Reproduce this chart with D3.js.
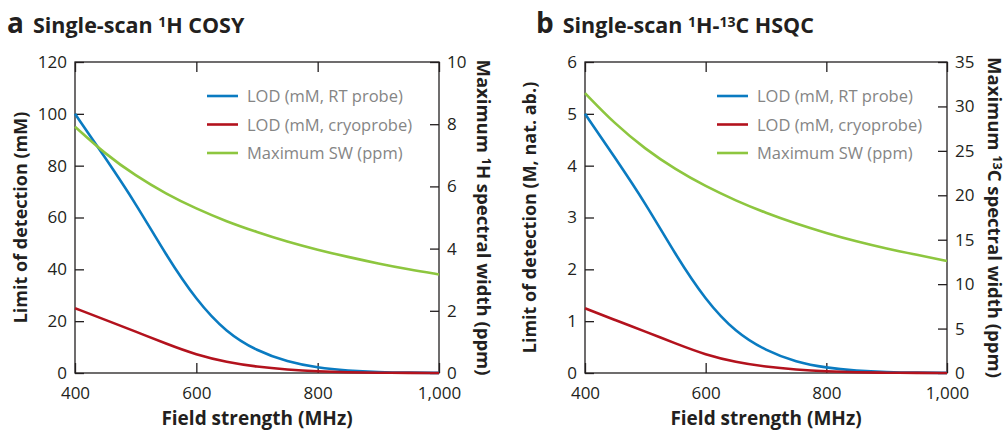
<!DOCTYPE html>
<html>
<head>
<meta charset="utf-8">
<script src="https://cdn.jsdelivr.net/npm/d3@7"></script>
<style>
  body { margin: 0; background: #fff; }
  svg { font-family: "Open Sans", "Noto Sans", sans-serif; }
</style>
</head>
<body>
<div id="chart"></div>
<script>
// field strengths (MHz)
var fieldMHz = [400, 450, 500, 550, 600, 650, 700, 750, 800, 850, 900, 950, 1000];

// panel a: single-scan 1H COSY
var cosyRT   = [100, 83, 65.5, 45.5, 28, 15.5, 8.5, 4.3, 2, 0.9, 0.35, 0.12, 0.04];
var cosyCryo = [25, 20.5, 16, 11.3, 7, 4.2, 2.4, 1.3, 0.6, 0.25, 0.1, 0.04, 0.02];
var cosySW   = [7.92, 7.04, 6.34, 5.76, 5.28, 4.87, 4.53, 4.22, 3.96, 3.73, 3.52, 3.33, 3.17];

// panel b: single-scan 1H-13C HSQC
var hsqcRT   = [5, 4.15, 3.28, 2.28, 1.4, 0.78, 0.43, 0.21, 0.1, 0.045, 0.018, 0.006, 0.002];
var hsqcCryo = [1.25, 1.02, 0.8, 0.57, 0.35, 0.21, 0.12, 0.065, 0.03, 0.012, 0.005, 0.002, 0.001];
var hsqcSW   = [31.5, 28.0, 25.2, 22.9, 21.0, 19.4, 18.0, 16.8, 15.75, 14.8, 14.0, 13.3, 12.6];

var xTicks = [400, 600, 800, 1000];
var legendLabels = ["LOD (mM, RT probe)", "LOD (mM, cryoprobe)", "Maximum SW (ppm)"];
var colors = ["#0a7bc1", "#b3121d", "#8dc63f"];
var ink = "#231f20";

var svg = d3.select("#chart").append("svg")
  .attr("width", 1007)
  .attr("height", 432);

var fmtX = d3.format(",");

function drawPanel(opt) {
  var x = d3.scaleLinear().domain([400, 1000]).range([opt.left, opt.right]);
  var yL = d3.scaleLinear().domain([0, opt.leftMax]).range([opt.bottom, opt.top]);
  var yR = d3.scaleLinear().domain([0, opt.rightMax]).range([opt.bottom, opt.top]);
  var g = svg.append("g");

  // frame
  g.append("rect")
    .attr("x", opt.left).attr("y", opt.top)
    .attr("width", opt.right - opt.left).attr("height", opt.bottom - opt.top)
    .attr("fill", "none").attr("stroke", ink).attr("stroke-width", 1.3);

  // left axis (ticks point inward)
  var la = g.append("g").attr("transform", "translate(" + opt.left + ",0)")
    .call(d3.axisRight(yL).tickValues(opt.leftTicks).tickSize(9).tickFormat(d3.format("d")));
  la.select(".domain").remove();
  la.selectAll("line").attr("stroke", ink).attr("stroke-width", 1.3);
  la.selectAll("text").attr("x", -8).attr("text-anchor", "end");

  // right axis
  var ra = g.append("g").attr("transform", "translate(" + opt.right + ",0)")
    .call(d3.axisLeft(yR).tickValues(opt.rightTicks).tickSize(9).tickFormat(d3.format("d")));
  ra.select(".domain").remove();
  ra.selectAll("line").attr("stroke", ink).attr("stroke-width", 1.3);
  ra.selectAll("text").attr("x", 8).attr("text-anchor", "start");

  // bottom axis
  var ba = g.append("g").attr("transform", "translate(0," + opt.bottom + ")")
    .call(d3.axisTop(x).tickValues(xTicks).tickSize(10).tickFormat(fmtX));
  ba.select(".domain").remove();
  ba.selectAll("line").attr("stroke", ink).attr("stroke-width", 1.3);
  ba.selectAll("text").attr("y", 26).attr("dy", 0);

  // top ticks
  var ta = g.append("g").attr("transform", "translate(0," + opt.top + ")")
    .call(d3.axisBottom(x).tickValues(xTicks).tickSize(10).tickFormat(""));
  ta.select(".domain").remove();
  ta.selectAll("line").attr("stroke", ink).attr("stroke-width", 1.3);

  g.selectAll(".tick text")
    .attr("font-size", 17).attr("fill", ink)
    .attr("font-family", "'Open Sans', sans-serif");

  // curves
  var series = [
    { vals: opt.rt, y: yL },
    { vals: opt.cryo, y: yL },
    { vals: opt.sw, y: yR }
  ];
  series.forEach(function (s, i) {
    var line = d3.line()
      .x(function (d, j) { return x(fieldMHz[j]); })
      .y(function (d) { return s.y(d); })
      .curve(d3.curveBasis);
    g.append("path")
      .datum(s.vals)
      .attr("d", line)
      .attr("fill", "none")
      .attr("stroke", colors[i])
      .attr("stroke-width", 2.6);
  });

  // legend
  legendLabels.forEach(function (lab, i) {
    var ly = opt.legendY + i * 28.5;
    g.append("line")
      .attr("x1", opt.legendX).attr("x2", opt.legendX + 31)
      .attr("y1", ly).attr("y2", ly)
      .attr("stroke", colors[i]).attr("stroke-width", 2.6);
    g.append("text")
      .attr("x", opt.legendX + 40).attr("y", ly + 6)
      .attr("font-size", 16.5).attr("fill", "#858585")
      .text(lab);
  });

  // x axis title
  g.append("text")
    .attr("x", (opt.left + opt.right) / 2).attr("y", 425)
    .attr("text-anchor", "middle")
    .attr("font-size", 19).attr("font-weight", "bold").attr("fill", ink)
    .text("Field strength (MHz)");

  // left title
  var cy = (opt.top + opt.bottom) / 2;
  g.append("text")
    .attr("transform", "translate(" + opt.leftTitleX + "," + cy + ") rotate(-90)")
    .attr("text-anchor", "middle")
    .attr("font-size", 18).attr("font-weight", "bold").attr("fill", ink)
    .text(opt.leftTitle);

  // right title with superscript
  var rt = g.append("text")
    .attr("transform", "translate(" + opt.rightTitleX + "," + cy + ") rotate(90)")
    .attr("text-anchor", "middle")
    .attr("font-size", 18.5).attr("font-weight", "bold").attr("fill", ink);
  rt.append("tspan").text("Maximum ");
  rt.append("tspan").attr("font-size", 12.5).attr("baseline-shift", "40%").text(opt.rightSup);
  rt.append("tspan").text(opt.rightRest);

  // panel heading
  var h = g.append("text")
    .attr("x", opt.headX).attr("y", 33)
    .attr("font-weight", "bold").attr("fill", ink);
  h.append("tspan").attr("font-size", 28).text(opt.letter);
  h.append("tspan").attr("font-size", 21.5).attr("dx", 9).text("Single-scan ");
  opt.heading.forEach(function (p) {
    if (p.sup) {
      h.append("tspan").attr("font-size", 14).attr("baseline-shift", "45%").text(p.t);
    } else {
      h.append("tspan").attr("font-size", 21.5).text(p.t);
    }
  });
}

drawPanel({
  left: 75, right: 439, top: 62, bottom: 373,
  leftMax: 120, rightMax: 10,
  leftTicks: [0, 20, 40, 60, 80, 100, 120],
  rightTicks: [0, 2, 4, 6, 8, 10],
  rt: cosyRT, cryo: cosyCryo, sw: cosySW,
  legendX: 207, legendY: 96,
  leftTitle: "Limit of detection (mM)", leftTitleX: 27,
  rightSup: "1", rightRest: "H spectral width (ppm)", rightTitleX: 477,
  letter: "a", headX: 7,
  heading: [{ t: "1", sup: true }, { t: "H COSY" }]
});

drawPanel({
  left: 585, right: 947, top: 62, bottom: 373,
  leftMax: 6, rightMax: 35,
  leftTicks: [0, 1, 2, 3, 4, 5, 6],
  rightTicks: [0, 5, 10, 15, 20, 25, 30, 35],
  rt: hsqcRT, cryo: hsqcCryo, sw: hsqcSW,
  legendX: 717, legendY: 96,
  leftTitle: "Limit of detection (M, nat. ab.)", leftTitleX: 536,
  rightSup: "13", rightRest: "C spectral width (ppm)", rightTitleX: 988,
  letter: "b", headX: 536,
  heading: [{ t: "1", sup: true }, { t: "H-" }, { t: "13", sup: true }, { t: "C HSQC" }]
});
</script>
</body>
</html>
